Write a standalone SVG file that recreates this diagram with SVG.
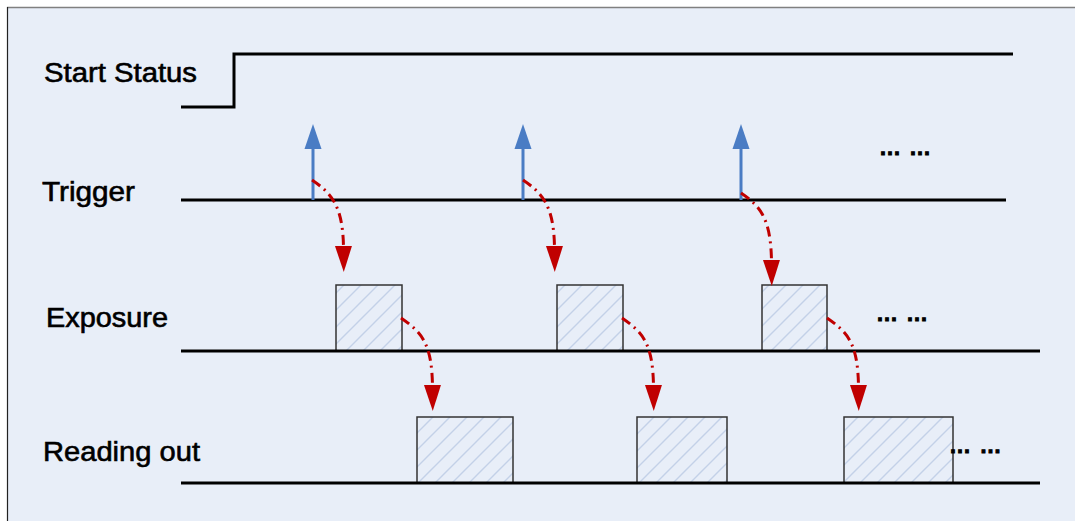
<svg xmlns="http://www.w3.org/2000/svg" width="1075" height="521" viewBox="0 0 1075 521">
<style>
.lbl{font-family:"Liberation Sans",Arial,sans-serif;font-size:27px;fill:#000;stroke:#000;stroke-width:0.6}
.dots{font-family:"Liberation Sans",Arial,sans-serif;font-size:22px;font-weight:bold;fill:#000;stroke:#000;stroke-width:0.9}
.sig{fill:none;stroke:#000;stroke-width:3}
.box{fill:url(#hatch);stroke:#333;stroke-width:1.5}
.trig{stroke:#4a7cc4;stroke-width:3;fill:none}
.flow{fill:none;stroke:#c00000;stroke-width:3;stroke-dasharray:10 5 2 5}
</style>
<defs>
<pattern id="hatch" patternUnits="userSpaceOnUse" width="17" height="17">
<rect width="17" height="17" fill="#e8eef8"/>
<path d="M-2,19 L19,-2 M-4,4 L4,-4 M13,21 L21,13" stroke="#c3d1e8" stroke-width="1.4"/>
</pattern>
<marker id="blueHead" markerWidth="26" markerHeight="18" refX="2" refY="9" orient="auto" markerUnits="userSpaceOnUse" viewBox="0 0 26 18">
<path d="M0,0.5 L25,9 L0,17.5 Z" fill="#4a7cc4"/>
</marker>
<marker id="redHead" markerWidth="27" markerHeight="18" refX="2" refY="9" orient="auto" markerUnits="userSpaceOnUse" viewBox="0 0 27 18">
<path d="M0,0.5 L26,9 L0,17.5 Z" fill="#c00000"/>
</marker>
</defs>
<rect x="0" y="0" width="1075" height="521" fill="#ffffff"/>
<rect x="7" y="7" width="1075" height="521" fill="#e8eef8"/>
<line x1="7" y1="7.5" x2="1075" y2="7.5" stroke="#808080" stroke-width="1.5"/>
<line x1="7.5" y1="7" x2="7.5" y2="521" stroke="#222" stroke-width="1.2"/>

<g id="start-status">
<text class="lbl" x="44" y="82" textLength="153" lengthAdjust="spacingAndGlyphs">Start Status</text>
<polyline class="sig" points="181,107 234,107 234,54 1013,54"/>
</g>
<g id="trigger">
<text class="lbl" x="42" y="201" textLength="93" lengthAdjust="spacingAndGlyphs">Trigger</text>
<line class="sig" x1="181" y1="200" x2="1006" y2="200"/>
<text class="dots" x="879" y="155">…</text>
<text class="dots" x="909" y="155">…</text>
</g>
<g id="exposure">
<text class="lbl" x="46" y="327" textLength="122" lengthAdjust="spacingAndGlyphs">Exposure</text>
<rect class="box" x="336" y="285" width="66" height="66"/>
<rect class="box" x="557" y="285" width="66" height="66"/>
<rect class="box" x="762" y="285" width="65" height="66"/>
<line class="sig" x1="181" y1="351" x2="1040" y2="351"/>
<text class="dots" x="876" y="320.5">…</text>
<text class="dots" x="906" y="320.5">…</text>
</g>
<g id="reading-out">
<text class="lbl" x="43" y="461" textLength="157" lengthAdjust="spacingAndGlyphs">Reading out</text>
<rect class="box" x="417" y="417" width="96" height="66"/>
<rect class="box" x="637" y="417" width="90" height="66"/>
<rect class="box" x="844" y="417" width="109" height="66"/>
<line class="sig" x1="181" y1="483" x2="1040" y2="483"/>
<text class="dots" x="949" y="453">…</text>
<text class="dots" x="979.5" y="453">…</text>
</g>
<g id="connectors">
<line class="trig" x1="313" y1="200" x2="313" y2="147" marker-end="url(#blueHead)"/>
<line class="trig" x1="523" y1="200" x2="523" y2="147" marker-end="url(#blueHead)"/>
<line class="trig" x1="741" y1="200" x2="741" y2="147" marker-end="url(#blueHead)"/>
<path class="flow" d="M312,180 C331,193 343,205 343.5,248" marker-end="url(#redHead)"/>
<path class="flow" d="M523,180 C542,193 554,205 554.5,248" marker-end="url(#redHead)"/>
<path class="flow" d="M741,193 C760,206 771,218 771.5,262" marker-end="url(#redHead)"/>
<path class="flow" d="M401,318 C421,332 432,342 432.5,387" marker-end="url(#redHead)"/>
<path class="flow" d="M622,318 C642,332 653,342 653.5,387" marker-end="url(#redHead)"/>
<path class="flow" d="M827,318 C847,332 858,342 858.5,387" marker-end="url(#redHead)"/>
</g>
</svg>
